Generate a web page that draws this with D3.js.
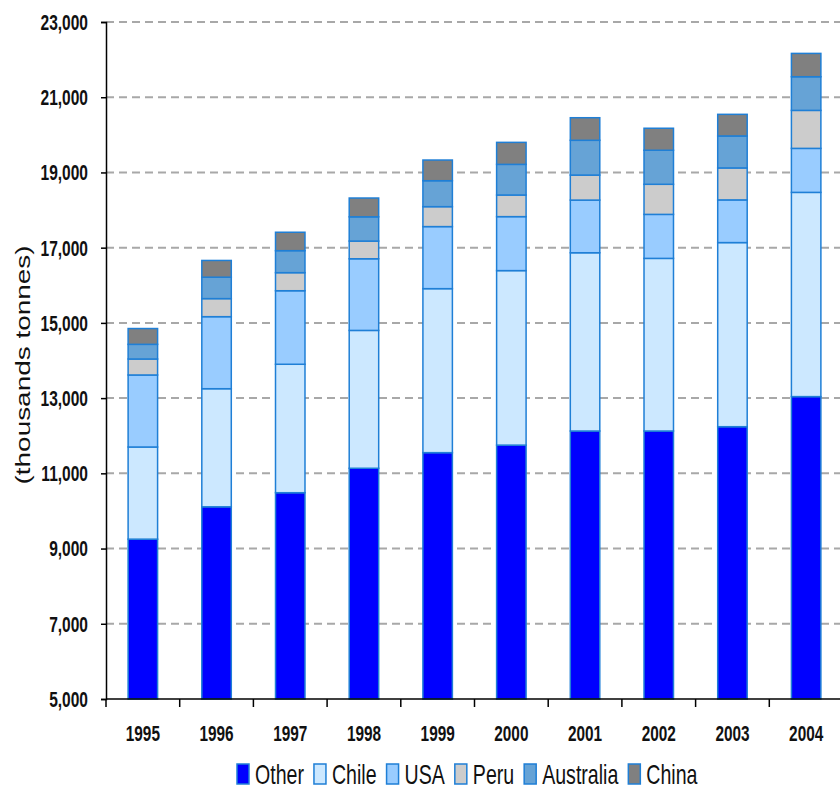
<!DOCTYPE html>
<html>
<head>
<meta charset="utf-8">
<script src="https://cdn.jsdelivr.net/npm/d3@7"></script>
<style>
  html, body { margin: 0; padding: 0; background: #ffffff; }
  svg { display: block; }
  .ytick { transform-box: fill-box; transform-origin: right center; transform: scale(0.84, 1.22); }
  .xtick { transform-box: fill-box; transform-origin: center; transform: scale(0.93, 1.35); }
  .legtext { transform-box: fill-box; transform-origin: left center; transform: scale(0.89, 1.22); }
</style>
</head>
<body>
<svg id="chart" width="840" height="789"></svg>
<script>
// Copy production by country, thousands of tonnes
const years = ["1995", "1996", "1997", "1998", "1999", "2000", "2001", "2002", "2003", "2004"];
const seriesNames = ["Other", "Chile", "USA", "Peru", "Australia", "China"];
const other     = [9250, 10110, 10485, 11135, 11550, 11750, 12125, 12125, 12240, 13040];
const chile     = [2450, 3140, 3415, 3665, 4360, 4640, 4740, 4590, 4895, 5430];
const usa       = [1915, 1915, 1955, 1905, 1650, 1435, 1400, 1170, 1135, 1170];
const peru      = [425, 480, 480, 470, 530, 575, 665, 800, 850, 1010];
const australia = [390, 570, 585, 645, 690, 815, 925, 905, 850, 895];
const china     = [420, 445, 490, 500, 550, 585, 600, 585, 575, 620];
const yTicks    = [5000, 7000, 9000, 11000, 13000, 15000, 17000, 19000, 21000, 23000];

const colors = ["#0000ff", "#cce8ff", "#99ccff", "#cccccc", "#66a3d6", "#808080"];
const seriesValues = [other, chile, usa, peru, australia, china];

const rows = years.map((yr, i) => {
  const r = { year: yr };
  seriesNames.forEach((s, k) => { r[s] = seriesValues[k][i]; });
  return r;
});

const svg = d3.select("#chart");
const plotLeft = 106, plotRight = 843, plotTop = 22, plotBottom = 699;

const x = d3.scaleBand().domain(years).range([plotLeft, plotRight])
  .paddingInner(0.6).paddingOuter(0.3);
const y = d3.scaleLinear().domain([5000, 23000]).range([plotBottom, plotTop]).clamp(true);

const font = "'Liberation Sans', Arial, sans-serif";

// dashed horizontal gridlines
svg.append("g").selectAll("line").data(yTicks.slice(1)).join("line")
  .attr("x1", plotLeft).attr("x2", 840)
  .attr("y1", d => y(d)).attr("y2", d => y(d))
  .attr("stroke", "#a8a8a8").attr("stroke-width", 2)
  .attr("stroke-dasharray", "8,5");

// stacked bars
const stack = d3.stack().keys(seriesNames);
const layers = stack(rows);
svg.append("g").selectAll("g").data(layers).join("g")
  .attr("fill", (d, i) => colors[i])
  .selectAll("rect").data(d => d).join("rect")
  .attr("x", d => x(d.data.year))
  .attr("width", x.bandwidth())
  .attr("y", d => y(d[1]))
  .attr("height", d => y(d[0]) - y(d[1]))
  .attr("stroke", "#1f7fd6")
  .attr("stroke-width", 1.5);

// y axis
const yAxis = svg.append("g").attr("transform", `translate(${plotLeft},0)`)
  .call(d3.axisLeft(y).tickValues(yTicks).tickFormat(d3.format(","))
    .tickSize(5).tickPadding(13));
yAxis.select(".domain").attr("stroke", "#000").attr("stroke-width", 1.5);
yAxis.selectAll(".tick line").attr("stroke", "#000").attr("stroke-width", 1.5);
yAxis.selectAll(".tick text")
  .attr("class", "ytick")
  .attr("fill", "#111")
  .style("font-family", font).style("font-weight", "bold").style("font-size", "18.5px");

// x axis: labels at band centres, tick marks at band boundaries
const xAxis = svg.append("g").attr("transform", `translate(0,${plotBottom})`)
  .call(d3.axisBottom(x).tickSize(0).tickPadding(28));
xAxis.select(".domain").remove();
xAxis.selectAll(".tick text")
  .attr("class", "xtick")
  .attr("fill", "#111")
  .style("font-family", font).style("font-weight", "bold").style("font-size", "16.5px");

const boundaries = years.map(d => x(d) - x.step() * x.paddingInner() / 2);
svg.append("line").attr("x1", plotLeft).attr("x2", 840).attr("y1", plotBottom).attr("y2", plotBottom)
  .attr("stroke", "#000").attr("stroke-width", 1.5);
svg.append("g").selectAll("line").data(boundaries).join("line")
  .attr("x1", d => d).attr("x2", d => d)
  .attr("y1", plotBottom).attr("y2", plotBottom + 8)
  .attr("stroke", "#000").attr("stroke-width", 1.5);

// y axis title
svg.append("text")
  .attr("transform", "translate(29.5,365) rotate(-90) scale(1.33,1)")
  .attr("text-anchor", "middle")
  .attr("fill", "#111")
  .style("font-family", font)
  .style("font-size", "21px")
  .text("(thousands tonnes)");

// legend
const legendScaleX = 0.89;
const legend = svg.append("g");
let lx = 237;
seriesNames.forEach((name, i) => {
  legend.append("rect")
    .attr("x", lx).attr("y", 764).attr("width", 12).attr("height", 20)
    .attr("fill", colors[i]).attr("stroke", "#1f7fd6").attr("stroke-width", 1.5);
  const t = legend.append("text")
    .attr("class", "legtext")
    .attr("x", lx + 18).attr("y", 782)
    .attr("fill", "#111")
    .style("font-family", font).style("font-size", "22px")
    .text(name);
  lx += 18 + t.node().getComputedTextLength() * legendScaleX + 10;
});
</script>
</body>
</html>
